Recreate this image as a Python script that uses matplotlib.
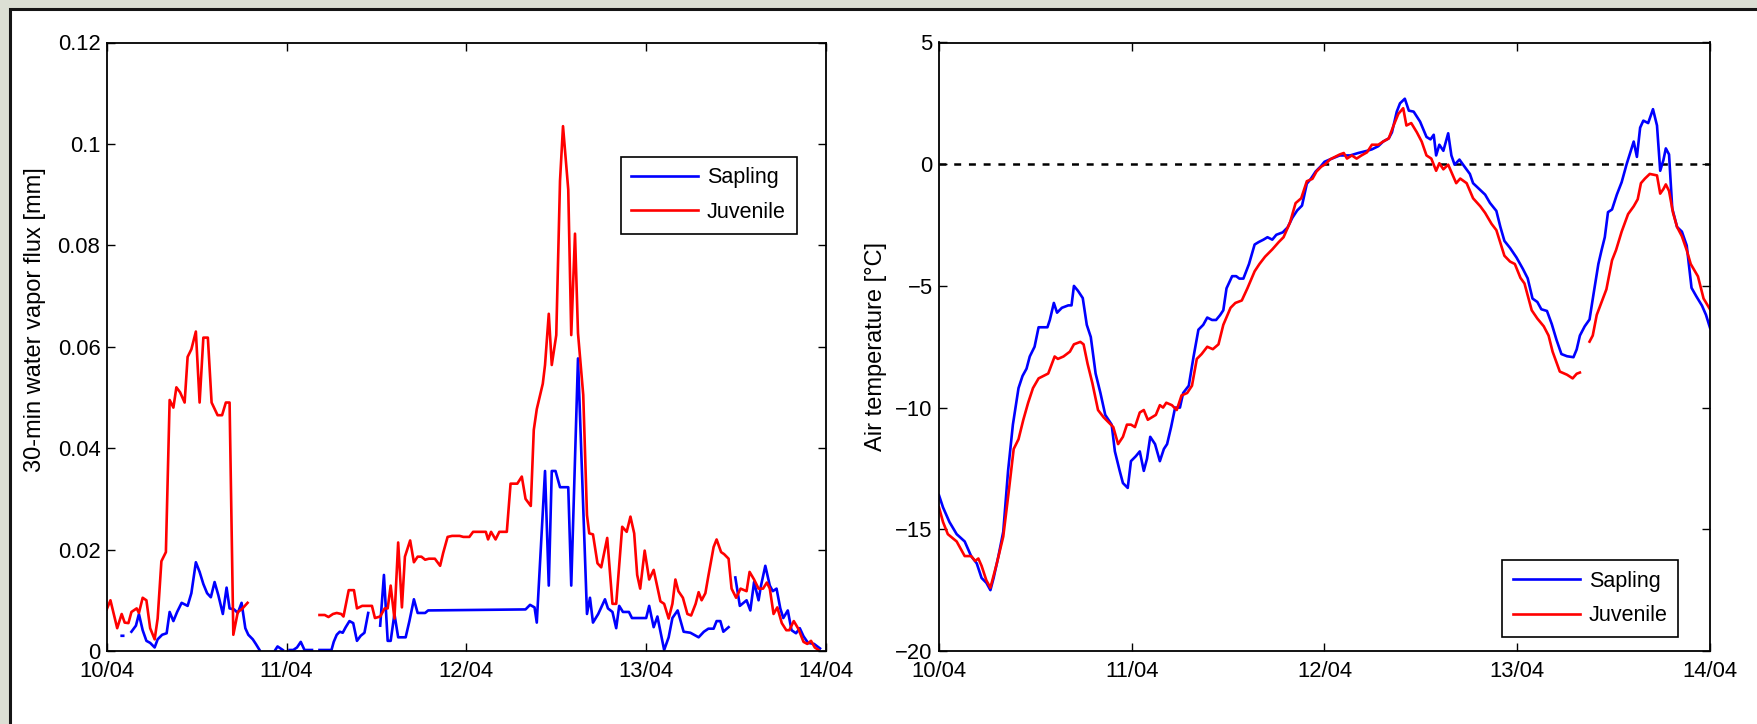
import numpy as np
import matplotlib
matplotlib.use('Agg')
import matplotlib.pyplot as plt
from matplotlib.patches import Rectangle

nan = np.nan

# ---------------- axis definitions ----------------
day_ticks = [0, 24, 48, 72, 96]          # hours since 10/04 00:00
day_labels = ['10/04', '11/04', '12/04', '13/04', '14/04']
flux_ticks = [0, 0.02, 0.04, 0.06, 0.08, 0.10, 0.12]
flux_labels = ['0', '0.02', '0.04', '0.06', '0.08', '0.1', '0.12']
temp_ticks = [-20, -15, -10, -5, 0, 5]
series_names = ['Sapling', 'Juvenile']

# ---------------- 30-min water vapor flux [mm] ----------------
flux_sap_h = [2.0, 2.2, nan,
              3.3, 3.9, 4.3, 4.8, 5.3, 5.8, 6.4, 6.8, 7.4, 8.0,
              8.4, 8.9, 9.4, 10.0, 10.8, 11.3, 11.9, 12.4, 12.9, 13.4,
              13.9, 14.4, 14.9, 15.5, 16.0, 16.4, 17.0, 17.5, 18.0, 18.5,
              18.9, 19.5, 19.9, 20.4, nan,
              22.5, 22.8, 23.5, nan,
              24.4, 24.9, 25.4, 25.9, 26.4, 27.4, nan,
              28.4, 30.0, 30.3, 30.7, 31.1, 31.5, 31.9, 32.4, 32.9, 33.4, 33.9, 34.4, 34.9, nan,
              36.5, 37.0, 37.5, 37.9, 38.4, 38.9, 39.5, 39.9, 40.4, 41.0,
              41.5, 42.5, 42.9, 55.9, 56.5, 57.1, 57.4, 58.5, 59.0, 59.4,
              59.9, 60.5, 61.6, 62.0, 62.9, 64.1, 64.5, 64.9, 65.6, 66.5,
              66.9, 67.5, 68.0, 68.4, 68.9, 69.7, 70.1, 72.0, 72.4, 73.0,
              73.5, 74.4, 75.0, 75.5, 76.2, 77.0, 77.9, 79.0, 79.7, 80.3,
              81.0, 81.4, 81.9, 82.3, 83.0, nan,
              83.9, 84.5, 85.4, 85.9, 86.4, 87.0, 87.3, 87.9, 88.5, 88.9,
              89.4, 89.9, 90.3, 90.9, 91.4, 92.0, 92.5, 93.0, 93.6, 94.4, 95.2]
flux_sap = [0.0030, 0.0030, nan,
            .0038, .0050, .0073, .0041, .0020, .0016, .0007, .0023, .0032, .0035,
            .0077, .0059, .0077, .0095, .0089, .0114, .0175, .0156, .0132, .0114,
            .0106, .0136, .0110, .0073, .0125, .0084, .0082, .0075, .0095, .0045,
            .0032, .0023, .0014, .0002, nan,
            .0002, .0009, .0002, nan,
            .0002, .0002, .0007, .0018, .0002, .0002, nan,
            .0002, .0002, .0018, .0032, .0038, .0036, .0047, .0059, .0055, .0020, .0030, .0036, .0075, nan,
            .0050, .0150, .0020, .0020, .0073, .0027, .0027, .0027, .0059, .0102,
            .0075, .0075, .0080, .0082, .0091, .0086, .0056, .0355, .0129, .0355,
            .0355, .0323, .0323, .0129, .0577, .0073, .0105, .0056, .0073, .0102,
            .0084, .0077, .0045, .0089, .0077, .0077, .0065, .0065, .0089, .0047,
            .0068, .0002, .0027, .0065, .0080, .0038, .0036, .0027, .0038, .0044,
            .0044, .0059, .0059, .0038, .0047, nan,
            .0145, .0089, .0100, .0080, .0136, .0100, .0127, .0168, .0129, .0118,
            .0123, .0084, .0065, .0080, .0041, .0035, .0045, .0029, .0016, .0014, .0005]

flux_juv_h = [0, 0.5, 1.4, 2.0, 2.4, 2.9, 3.3, 4.0, 4.3, 4.8,
              5.3, 5.8, 6.4, 6.8, 7.3, 7.9, 8.4, 8.9, 9.3, 9.8,
              10.4, 10.8, 11.3, 11.9, 12.4, 12.9, 13.5, 14.0, 14.8, 15.4,
              15.9, 16.4, 16.9, 17.5, 18.0, 18.8, nan,
              28.4, 29.1, 29.6, 30.2, 30.7, 31.3, 31.6, 32.3, 33.0, 33.4,
              34.1, 34.6, 35.4, 35.8, 36.5, 37.1, 37.5, 37.9, 38.4, 38.9,
              39.4, 39.8, 40.5, 41.0, 41.5, 42.0, 42.5, 43.0, 43.8, 44.5,
              44.9, 45.5, 46.1, 47.1, 47.6, 48.4, 48.9, 50.1, 50.6, 50.9,
              51.3, 51.9, 52.4, 53.4, 53.9, 54.8, 55.4, 55.9, 56.6, 57.0,
              57.4, 58.2, 58.5, 59.0, 59.4, 60.0, 60.5, 60.9, 61.6, 62.0,
              62.5, 62.9, 63.6, 64.1, 64.4, 64.9, 65.5, 66.0, 66.8, 67.5,
              68.0, 68.8, 69.4, 69.9, 70.4, 70.8, 71.2, 71.8, 72.4, 73.0,
              73.9, 74.4, 75.0, 75.5, 75.9, 76.3, 76.9, 77.5, 78.0, 78.6,
              79.0, 79.4, 79.9, 80.3, 81.0, 81.4, 82.0, 82.4, 83.0, 83.4,
              84.0, 84.6, 85.4, 85.8, 86.4, 87.0, 87.6, 88.1, 88.5, 89.0,
              89.5, 90.1, 90.7, 91.1, 91.7, 92.3, 93.0, 93.5, 94.0, 94.5,
              95.0]
flux_juv = [.0082, .0100, .0045, .0073, .0056, .0055, .0077, .0084, .0075, .0105,
            .0100, .0045, .0023, .0064, .0177, .0195, .0495, .0480, .0520, .0510,
            .0490, .0580, .0595, .0630, .0490, .0618, .0618, .0490, .0465, .0465,
            .0490, .0490, .0032, .0077, .0082, .0095, nan,
            .0071, .0071, .0067, .0073, .0075, .0073, .0068, .0120, .0120, .0084,
            .0089, .0089, .0089, .0065, .0068, .0084, .0084, .0129, .0064, .0214,
            .0086, .0186, .0218, .0175, .0186, .0186, .0180, .0182, .0182, .0168,
            .0193, .0225, .0227, .0227, .0225, .0225, .0235, .0235, .0235, .0220,
            .0235, .0220, .0235, .0235, .0330, .0330, .0344, .0300, .0286, .0436,
            .0477, .0527, .0564, .0665, .0564, .0623, .0927, .1035, .0910, .0623,
            .0823, .0627, .0505, .0268, .0232, .0230, .0173, .0165, .0223, .0093,
            .0093, .0245, .0235, .0265, .0232, .0150, .0123, .0198, .0141, .0160,
            .0098, .0093, .0064, .0093, .0141, .0118, .0105, .0073, .0070, .0093,
            .0116, .0100, .0114, .0148, .0205, .0220, .0195, .0191, .0182, .0123,
            .0105, .0123, .0118, .0156, .0141, .0123, .0123, .0135, .0123, .0073,
            .0086, .0055, .0041, .0041, .0059, .0044, .0018, .0014, .0020, .0007,
            .0002]

# ---------------- Air temperature [deg C] ----------------
temp_sap_h = [0, 0.5, 1.3, 2.2, 3.2, 4.0, 4.7, 5.3, 5.9, 6.4,
              6.8, 7.4, 8.0, 8.6, 9.2, 9.9, 10.4, 10.9, 11.3, 11.9,
              12.4, 12.8, 13.5, 13.8, 14.3, 14.7, 15.3, 16.1, 16.5, 16.8,
              17.3, 17.9, 18.4, 18.9, 19.5, 20.1, 20.7, 21.5, 21.9, 22.5,
              22.9, 23.5, 23.9, 24.5, 25.0, 25.5, 25.9, 26.3, 26.9, 27.5,
              28.0, 28.4, 28.9, 29.4, 30.0, 30.4, 31.1, 31.7, 32.3, 32.9,
              33.4, 34.0, 34.5, 35.0, 35.4, 35.8, 36.5, 37.0, 37.4, 37.9,
              38.6, 39.3, 39.8, 40.4, 40.9, 41.5, 42.0, 42.8, 43.4, 44.0,
              44.6, 45.2, 45.8, 46.3, 46.9, 47.5, 48.0, 48.7, 49.9, 51.2,
              52.2, 53.3, 53.9, 54.7, 55.3, 56.0, 56.4, 57.0, 57.4, 58.0,
              58.5, 59.1, 59.9, 60.7, 61.2, 61.6, 61.9, 62.3, 62.8, 63.4,
              63.8, 64.2, 64.8, 65.3, 66.1, 66.5, 67.4, 68.0, 68.6, 69.4,
              69.9, 70.4, 71.1, 71.9, 72.7, 73.3, 73.9, 74.5, 75.0, 75.7,
              76.3, 76.9, 77.5, 78.2, 79.0, 79.4, 79.8, 80.4, 81.0, 81.5,
              82.1, 82.5, 82.9, 83.3, 83.8, 84.4, 85.0, 85.6, 86.5, 86.9,
              87.3, 87.7, 88.3, 88.9, 89.4, 89.8, 90.2, 90.5, 90.9, 91.3,
              91.9, 92.5, 93.1, 93.7, 94.3, 95.0, 95.5, 96.0]
temp_sap = [-13.6, -14.1, -14.7, -15.2, -15.5, -16.1, -16.4, -17.0, -17.2, -17.5,
            -17.0, -16.1, -15.1, -12.6, -10.7, -9.2, -8.7, -8.4, -7.9, -7.5,
            -6.7, -6.7, -6.7, -6.4, -5.7, -6.1, -5.9, -5.8, -5.8, -5.0,
            -5.2, -5.5, -6.6, -7.1, -8.6, -9.4, -10.3, -10.7, -11.8, -12.6,
            -13.1, -13.3, -12.2, -12.0, -11.8, -12.6, -12.1, -11.2, -11.5, -12.2,
            -11.7, -11.5, -10.8, -10.0, -10.0, -9.4, -9.1, -7.9, -6.8, -6.6,
            -6.3, -6.4, -6.4, -6.2, -6.0, -5.1, -4.6, -4.6, -4.7, -4.7,
            -4.1, -3.3, -3.2, -3.1, -3.0, -3.1, -2.9, -2.8, -2.6, -2.2,
            -1.9, -1.7, -0.8, -0.6, -0.3, -0.1, 0.1, 0.2, 0.36, 0.36,
            0.46, 0.55, 0.61, 0.74, 0.93, 1.06, 1.31, 2.16, 2.5, 2.69,
            2.2, 2.16, 1.75, 1.12, 1.02, 1.21, 0.36, 0.8, 0.55, 1.27,
            0.36, -0.02, 0.19, -0.04, -0.40, -0.78, -1.06, -1.25, -1.59, -1.92,
            -2.58, -3.15, -3.44, -3.83, -4.3, -4.69, -5.52, -5.66, -5.96, -6.03,
            -6.57, -7.23, -7.80, -7.89, -7.93, -7.61, -7.04, -6.66, -6.38, -5.33,
            -4.10, -3.53, -3.0, -1.97, -1.86, -1.25, -0.74, -0.02, 0.93, 0.30,
            1.50, 1.79, 1.69, 2.26, 1.59, -0.27, 0.17, 0.65, 0.40, -1.82,
            -2.58, -2.77, -3.34, -5.08, -5.43, -5.81, -6.19, -6.72]

temp_juv_h = [0, 0.5, 1.1, 2.2, 3.2, 4.0, 4.5, 4.9, 5.3, 5.9,
              6.4, 7.2, 8.0, 8.7, 9.3, 9.9, 10.5, 11.1, 11.7, 12.4,
              13.0, 13.6, 14.4, 14.8, 15.5, 16.3, 16.8, 17.6, 18.0, 18.5,
              19.1, 19.8, 20.5, 21.1, 21.7, 22.3, 22.9, 23.4, 23.9, 24.4,
              25.0, 25.5, 26.0, 26.5, 27.0, 27.5, 27.9, 28.3, 29.0, 29.6,
              30.2, 30.9, 31.5, 32.1, 32.7, 33.4, 34.1, 34.8, 35.4, 36.3,
              36.9, 37.7, 38.4, 39.3, 39.9, 40.6, 41.5, 42.3, 42.9, 43.7,
              44.4, 45.1, 45.8, 46.5, 47.0, 47.6, 48.1, 48.7, 49.9, 50.4,
              50.8, 51.4, 52.0, 52.6, 53.3, 53.9, 54.7, 55.3, 56.0, 56.6,
              57.2, 57.8, 58.2, 58.8, 59.5, 60.1, 60.7, 61.3, 61.9, 62.3,
              62.8, 63.4, 64.4, 64.9, 65.7, 66.5, 67.4, 68.0, 68.8, 69.4,
              70.4, 71.1, 71.7, 72.4, 72.9, 73.8, 74.5, 75.3, 75.9, 76.4,
              77.3, 78.2, 78.9, 79.4, 79.8, nan,
              81.0, 81.4, 81.9, 82.5, 83.1, 83.8, 84.3, 85.0, 85.8, 86.5,
              87.0, 87.4, 87.9, 88.5, 89.4, 89.8, 90.2, 90.5, 90.9, 91.4,
              91.9, 92.5, 93.1, 93.6, 94.5, 95.2, 96.0]
temp_juv = [-14.1, -14.7, -15.2, -15.5, -16.1, -16.1, -16.3, -16.2, -16.5, -17.1,
            -17.4, -16.4, -15.3, -13.4, -11.7, -11.3, -10.5, -9.8, -9.2, -8.8,
            -8.7, -8.6, -7.9, -8.0, -7.9, -7.7, -7.4, -7.3, -7.4, -8.2,
            -9.0, -10.1, -10.4, -10.6, -10.8, -11.5, -11.2, -10.7, -10.7, -10.8,
            -10.2, -10.1, -10.5, -10.4, -10.3, -9.9, -10.0, -9.8, -9.9, -10.1,
            -9.5, -9.4, -9.1, -8.0, -7.8, -7.5, -7.6, -7.4, -6.6, -5.9,
            -5.7, -5.6, -5.1, -4.4, -4.1, -3.8, -3.5, -3.2, -3.0, -2.4,
            -1.6, -1.4, -0.7, -0.6, -0.3, -0.1, 0.0, 0.2, 0.40, 0.46,
            0.23, 0.36, 0.23, 0.36, 0.49, 0.80, 0.80, 0.93, 1.06, 1.59,
            2.07, 2.30, 1.59, 1.69, 1.31, 0.93, 0.36, 0.23, -0.27, 0.04,
            -0.21, -0.02, -0.78, -0.59, -0.78, -1.40, -1.73, -2.0, -2.45, -2.71,
            -3.76, -4.0, -4.1, -4.67, -4.9, -6.0, -6.34, -6.66, -7.04, -7.70,
            -8.52, -8.65, -8.80, -8.61, -8.56, nan,
            -7.29, -7.04, -6.19, -5.66, -5.14, -3.95, -3.53, -2.77, -2.05, -1.73,
            -1.44, -0.78, -0.59, -0.40, -0.46, -1.21, -1.02, -0.83, -1.10, -2.0,
            -2.58, -2.96, -3.53, -4.10, -4.61, -5.52, -5.96]

# ---------------- figure ----------------
plt.rcParams['font.family'] = ['Liberation Sans', 'DejaVu Sans']
plt.rcParams['lines.scale_dashes'] = False

W, H = 1758, 724
fig = plt.figure(figsize=(W / 100, H / 100), dpi=100)
fig.patch.set_facecolor('#dcdfd4')
fig.patches.append(Rectangle((9.5 / W, -0.1), 1.2, 1.1 - 9.5 / H,
                             transform=fig.transFigure, facecolor='white',
                             edgecolor='#151515', linewidth=2.2, zorder=-1))

def px_axes(x0, x1, y0, y1):
    return fig.add_axes([x0 / W, 1 - y1 / H, (x1 - x0) / W, (y1 - y0) / H])

ax1 = px_axes(106.7, 826, 42.5, 651)
ax2 = px_axes(939, 1710, 42.5, 651)

BLUE, RED = '#0000ff', '#ff0000'
LW = 1.9
TICK_FS = 15.8
LEG_FS = 15.5
LABEL_FS = 17

ax1.plot(flux_sap_h, flux_sap, color=BLUE, lw=LW, label=series_names[0])
ax1.plot(flux_juv_h, flux_juv, color=RED, lw=LW, label=series_names[1])
ax1.set_ylim(0, 0.12)
ax1.set_yticks(flux_ticks)
ax1.set_yticklabels(flux_labels)
ax1.set_ylabel('30-min water vapor flux [mm]', fontsize=LABEL_FS)
ax1.yaxis.set_label_coords(-0.084, 0.545)

ax2.axhline(0, color='black', lw=1.8, dashes=(5.0, 5.6))
ax2.plot(temp_sap_h, temp_sap, color=BLUE, lw=LW, label=series_names[0])
ax2.plot(temp_juv_h, temp_juv, color=RED, lw=LW, label=series_names[1])
ax2.set_ylim(-20, 5)
ax2.set_yticks(temp_ticks)
ax2.set_ylabel('Air temperature [°C]', fontsize=LABEL_FS)
ax2.yaxis.set_label_coords(-0.067, 0.5)

for ax in (ax1, ax2):
    ax.set_xlim(day_ticks[0], day_ticks[-1])
    ax.set_xticks(day_ticks)
    ax.set_xticklabels(day_labels)
    ax.tick_params(direction='in', length=5.5, width=1.0, top=True, right=True,
                   labelsize=TICK_FS, colors='black')
    ax.tick_params(axis='x', pad=7)
    ax.tick_params(axis='y', pad=4.5)
    for s in ax.spines.values():
        s.set_linewidth(1.3)
        s.set_color('black')

leg_kw = dict(fontsize=LEG_FS, handlelength=3.1, handletextpad=0.42,
              borderpad=0.5, labelspacing=0.62, fancybox=False, framealpha=1,
              edgecolor='black', borderaxespad=0, bbox_transform=fig.transFigure)
l1 = ax1.legend(loc='upper right', bbox_to_anchor=(796.7 / W, 1 - 156.7 / H), **leg_kw)
l2 = ax2.legend(loc='lower right', bbox_to_anchor=(1678.3 / W, 1 - 637 / H), **leg_kw)
for l in (l1, l2):
    l.get_frame().set_linewidth(1.2)

fig.savefig('out.png', dpi=100, facecolor=fig.get_facecolor())
